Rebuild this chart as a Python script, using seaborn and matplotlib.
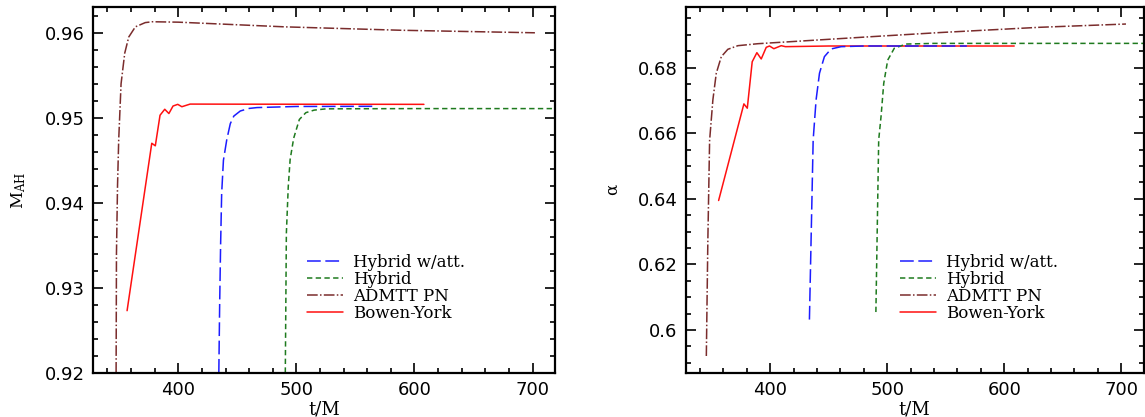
import matplotlib
matplotlib.use('Agg')
import matplotlib.pyplot as plt
import pandas as pd
import seaborn as sns
from matplotlib.ticker import MultipleLocator, FuncFormatter

# ---- data ----
# left panel: horizon mass M_AH vs t/M
admtt_t_left = [347.3, 347.6, 348.5, 349.5, 351.5, 354.6, 358.0, 363.6, 372.0, 378.0, 400.0, 490.0, 588.0, 702.0]
admtt_mass = [0.920, 0.934, 0.942, 0.9474, 0.954, 0.9576, 0.9595, 0.9607, 0.9612, 0.9613, 0.96125, 0.9607, 0.9603, 0.9600]

by_t_left = [356.6, 377.5, 380.5, 384.5, 388.5, 392.0, 395.5, 399.5, 403.0, 410.0, 450.0, 608.0]
by_mass = [0.9273, 0.9470, 0.9467, 0.9503, 0.9510, 0.9505, 0.95138, 0.95158, 0.9513, 0.95161, 0.9516, 0.95158]

hwa_t_left = [434.3, 435.0, 435.8, 436.7, 438.2, 441.0, 444.0, 447.0, 452.5, 460.0, 466.6, 500.0, 568.0]
hwa_mass = [0.920, 0.928, 0.935, 0.9411, 0.945, 0.9474, 0.9493, 0.9502, 0.9508, 0.9511, 0.9512, 0.95133, 0.95135]

hyb_t_left = [490.6, 491.5, 493.1, 494.7, 497.7, 502.5, 508.0, 515.0, 525.0, 600.0, 730.0]
hyb_mass = [0.920, 0.9364, 0.9419, 0.9451, 0.9476, 0.9498, 0.9506, 0.9509, 0.95105, 0.95108, 0.95108]

# right panel: spin alpha vs t/M
admtt_t_right = [345.4, 346.7, 348.2, 351.0, 353.9, 358.2, 363.8, 372.4, 389.4, 489.0, 545.0, 630.0, 704.0]
admtt_alpha = [0.5921, 0.6274, 0.6578, 0.6702, 0.6783, 0.68335, 0.6856, 0.6867, 0.6873, 0.6895, 0.6907, 0.6923, 0.6933]

by_t_right = [355.9, 377.5, 380.4, 384.6, 388.6, 392.3, 396.6, 399.4, 403.1, 409.4, 413.0, 450.0, 608.5]
by_alpha = [0.6395, 0.66895, 0.66764, 0.6818, 0.68457, 0.68265, 0.6862, 0.6866, 0.68578, 0.6867, 0.6864, 0.6866, 0.6866]

hwa_t_right = [433.5, 436.7, 439.2, 442.1, 446.3, 452.0, 460.6, 480.0, 568.0]
hwa_alpha = [0.6032, 0.658, 0.6702, 0.6783, 0.68335, 0.6857, 0.6864, 0.6866, 0.6866]

hyb_t_right = [490.3, 492.7, 494.7, 497.0, 500.4, 506.0, 516.0, 540.0, 730.0]
hyb_alpha = [0.6055, 0.658, 0.6651, 0.6752, 0.6823, 0.6859, 0.6872, 0.6874, 0.6874]

runs = ['Bowen-York', 'ADMTT PN', 'Hybrid', 'Hybrid w/att.']  # draw order
legend_order = ['Hybrid w/att.', 'Hybrid', 'ADMTT PN', 'Bowen-York']

colors = {'Hybrid w/att.': '#1c1cff', 'Hybrid': '#1e7a1e',
          'ADMTT PN': '#7a2c2c', 'Bowen-York': '#ff1010'}
dashes = {'Hybrid w/att.': (9, 3), 'Hybrid': (3.5, 2.2),
          'ADMTT PN': (7, 1.5, 1, 1.5), 'Bowen-York': ''}


def make_df(series):
    frames = []
    for name, t, v in series:
        frames.append(pd.DataFrame({'t': t, 'v': v, 'run': name}))
    return pd.concat(frames, ignore_index=True)


left_df = make_df([('Bowen-York', by_t_left, by_mass),
                   ('ADMTT PN', admtt_t_left, admtt_mass),
                   ('Hybrid', hyb_t_left, hyb_mass),
                   ('Hybrid w/att.', hwa_t_left, hwa_mass)])
right_df = make_df([('Bowen-York', by_t_right, by_alpha),
                    ('ADMTT PN', admtt_t_right, admtt_alpha),
                    ('Hybrid', hyb_t_right, hyb_alpha),
                    ('Hybrid w/att.', hwa_t_right, hwa_alpha)])

sns.set_style('ticks')
plt.rcParams['font.family'] = ['DejaVu Sans']
plt.rcParams['text.color'] = 'black'
plt.rcParams['axes.labelcolor'] = 'black'
plt.rcParams['xtick.color'] = 'black'
plt.rcParams['ytick.color'] = 'black'

fig = plt.figure(figsize=(11.45, 4.17), dpi=100)
ax1 = fig.add_axes([0.0815, 0.1062, 0.4032, 0.8763])
ax2 = fig.add_axes([0.5991, 0.1062, 0.3996, 0.8763])

panels = [(ax1, left_df, (0.920, 0.963), 0.01, 0.002, r'$\mathregular{M_{AH}}$', 0.462),
          (ax2, right_df, (0.587, 0.6984), 0.02, 0.005, r'$\mathregular{\alpha}$', 0.467)]

for ax, df, ylim, ymaj, ymin, ylab, legx in panels:
    sns.lineplot(data=df, x='t', y='v', hue='run', style='run', hue_order=runs,
                 style_order=runs, palette=colors, dashes=dashes, sort=True,
                 estimator=None, linewidth=1.1, legend=False, ax=ax)
    ax.set_xlim(328, 719)
    ax.set_ylim(*ylim)
    ax.xaxis.set_major_locator(MultipleLocator(100))
    ax.xaxis.set_minor_locator(MultipleLocator(20))
    ax.yaxis.set_major_locator(MultipleLocator(ymaj))
    ax.yaxis.set_minor_locator(MultipleLocator(ymin))
    ax.yaxis.set_major_formatter(FuncFormatter(lambda v, p: '%g' % round(v, 3)))
    ax.tick_params(which='both', direction='in', top=True, right=True,
                   width=1.2, color='black', labelcolor='black', labelsize=13)
    ax.tick_params(which='major', length=7, pad=6)
    ax.tick_params(which='minor', length=3.8)
    for sp in ax.spines.values():
        sp.set_linewidth(1.6)
        sp.set_color('black')
    ax.set_xlabel('t/M', family='DejaVu Serif', fontsize=13, labelpad=1, color='black')
    ax.set_ylabel(ylab, family='DejaVu Serif', fontsize=12, color='black')
    ax.yaxis.set_label_coords(-0.141, 0.5)

    handles = {l: h for l, h in zip(runs, ax.lines)}
    ax.legend([handles[k] for k in legend_order], legend_order,
              loc='upper left', bbox_to_anchor=(legx, 0.325), frameon=False,
              borderpad=0, borderaxespad=0, handlelength=2.2, handletextpad=0.6,
              labelspacing=0.0, prop={'family': 'DejaVu Serif', 'size': 12})

fig.savefig('out.png', dpi=100)
